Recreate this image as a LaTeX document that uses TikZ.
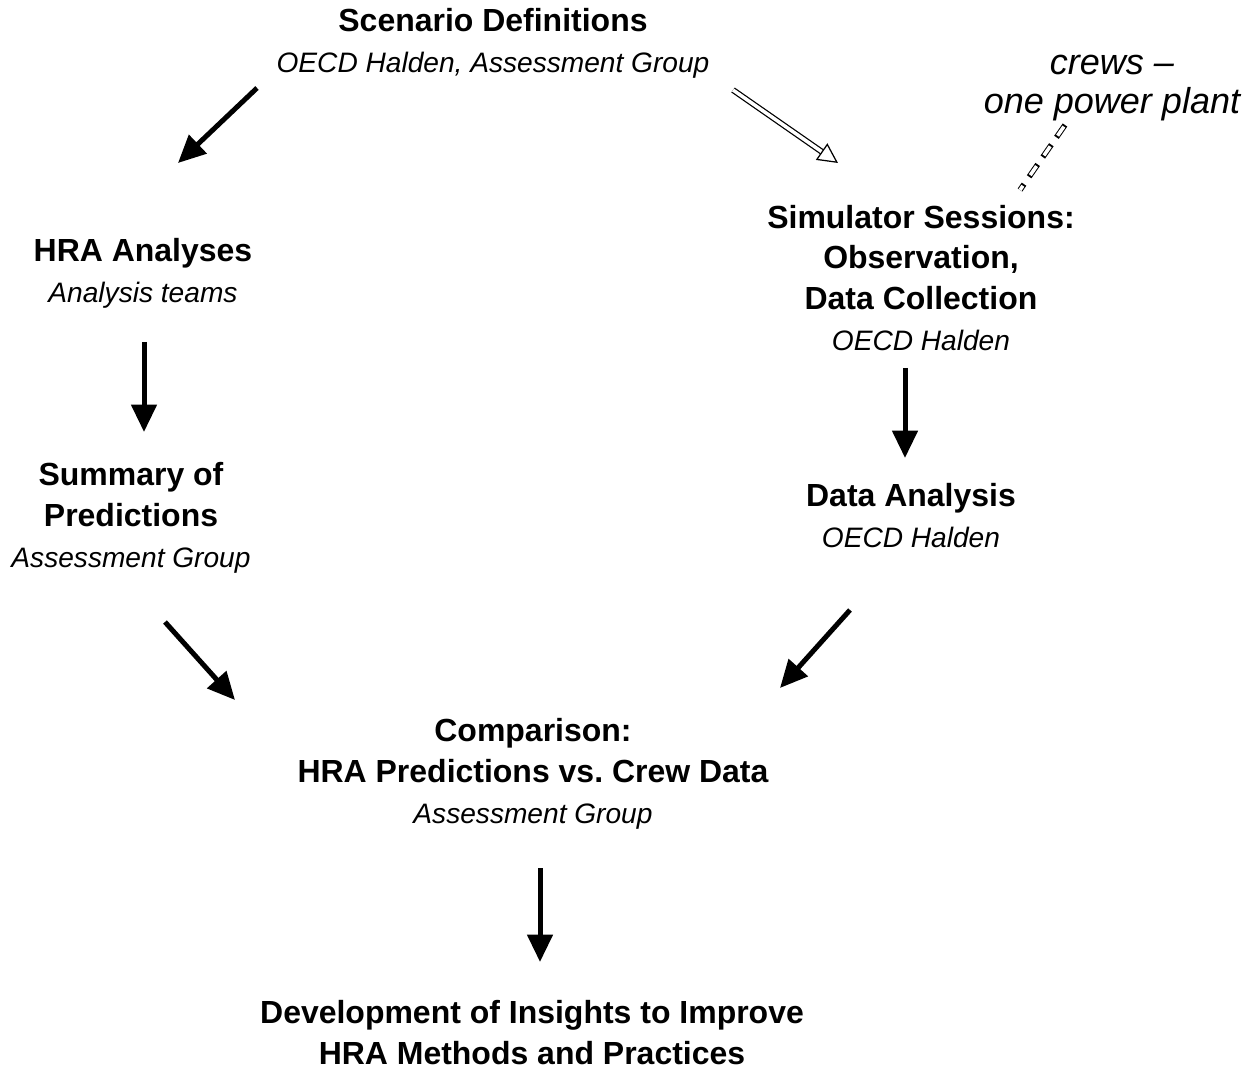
\documentclass[tikz,border=0pt]{standalone}
\usepackage{fontspec}
\setmainfont{Liberation Sans}
\frenchspacing
\usepackage{tikz}
\usetikzlibrary{arrows.meta,positioning,calc}
\newcommand{\stagehead}[1]{{\fontsize{18.2}{23.3}\selectfont\bfseries #1}}
\newcommand{\stageby}[1]{{\fontsize{16}{23.3}\selectfont\itshape #1}}
\tikzstyle{stage} = [align=center, inner sep=0pt, font=\fontsize{16}{23.3}\selectfont]
\tikzstyle{flow} = [line width=0.1cm, -{Triangle[length=0.55cm,width=0.5cm]}]
\tikzstyle{hollow} = [double, line width=0.025cm, double distance=0.07cm, -{Triangle[open,length=0.4cm,width=0.4cm]}]
\tikzstyle{tie} = [line width=0.11cm, dash pattern=on 0.3cm off 0.18cm,
    postaction={draw=white, line width=0.07cm, dash pattern=on 0.22cm off 0.26cm, dash phase=0.44cm}]

\begin{document}
\begin{tikzpicture}[x=0.02cm, y=-0.02cm]
    \useasboundingbox (0,0) rectangle (1242,1074);
    % stages
    \node[stage] (scen) at (493,43) {\stagehead{Scenario Definitions}\\\stageby{OECD Halden, Assessment Group}};
    \node[stage] (hra) at (143,273) {\stagehead{HRA Analyses}\\\stageby{Analysis teams}};
    \node[stage] (summ) at (131,518) {\stagehead{Summary of}\\\stagehead{Predictions}\\\stageby{Assessment Group}};
    \node[stage] (sim) at (921,278) {\stagehead{Simulator Sessions:}\\\stagehead{Observation,}\\\stagehead{Data Collection}\\\stageby{OECD Halden}};
    \node[stage] (data) at (911,516) {\stagehead{Data Analysis}\\\stageby{OECD Halden}};
    \node[stage] (comp) at (533,774) {\stagehead{Comparison:}\\\stagehead{HRA Predictions vs. Crew Data}\\\stageby{Assessment Group}};
    \node[stage] (dev) at (532,1033) {\stagehead{Development of Insights to Improve}\\\stagehead{HRA Methods and Practices}};
    \node[align=center, inner sep=0pt, font=\fontsize{20.5}{22.5}\selectfont\itshape] (crews) at (1112,88) {crews --\\one power plant};
    % arrow ends
    \coordinate (s1) at (257,88);  \coordinate (e1) at (178,163);
    \coordinate (s2) at (733,90);  \coordinate (e2) at (838,163);
    \coordinate (s3) at (1065,125); \coordinate (e3) at (1020,190);
    \coordinate (s4) at (144,342); \coordinate (e4) at (144,432);
    \coordinate (s5) at (905,368); \coordinate (e5) at (905,458);
    \coordinate (s6) at (165,622); \coordinate (e6) at (235,700);
    \coordinate (s7) at (850,610); \coordinate (e7) at (780,688);
    \coordinate (s8) at (540,868); \coordinate (e8) at (540,962);
    \draw[flow] (s1) -- (e1);
    \draw[hollow] (s2) -- (e2);
    \draw[tie] (s3) -- (e3);
    \draw[flow] (s4) -- (e4);
    \draw[flow] (s5) -- (e5);
    \draw[flow] (s6) -- (e6);
    \draw[flow] (s7) -- (e7);
    \draw[flow] (s8) -- (e8);
\end{tikzpicture}
\end{document}
